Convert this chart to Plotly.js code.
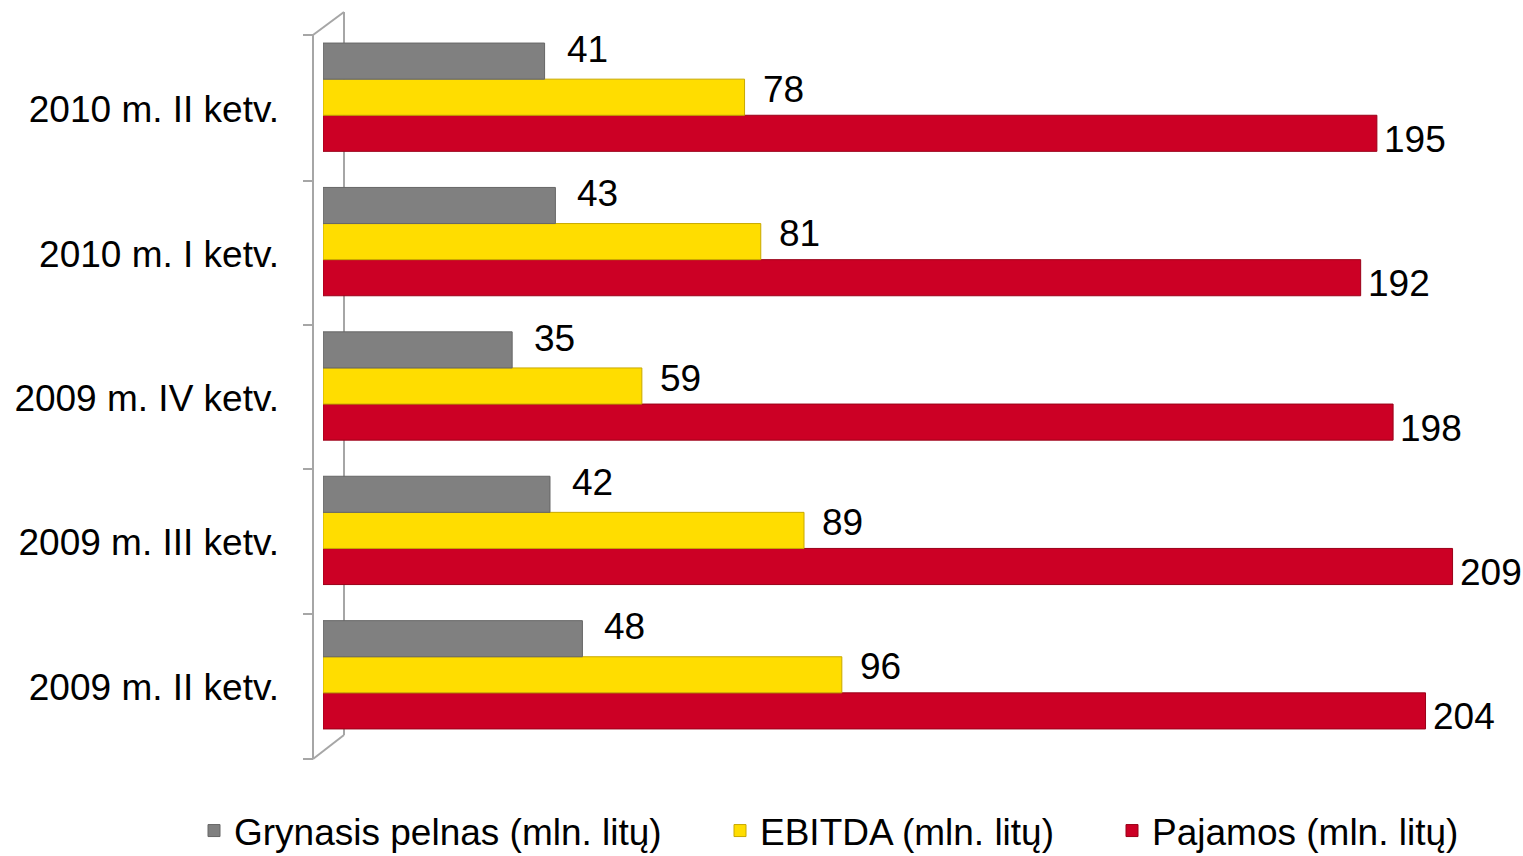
<!DOCTYPE html>
<html>
<head>
<meta charset="utf-8">
<script src="https://cdn.plot.ly/plotly-3.0.1.min.js"></script>
<style>html,body{margin:0;padding:0;background:#fff;}#chart{width:1523px;height:856px;}</style>
</head>
<body>
<div id="chart"></div>
<script>
// Categories listed bottom to top
const categories = ['2009 m. II ketv.', '2009 m. III ketv.', '2009 m. IV ketv.', '2010 m. I ketv.', '2010 m. II ketv.'];
const grynasisPelnas = [48, 42, 35, 43, 41];
const ebitda = [96, 89, 59, 81, 78];
const pajamos = [204, 209, 198, 192, 195];
const seriesNames = ['Grynasis pelnas (mln. litų)', 'EBITDA (mln. litų)', 'Pajamos (mln. litų)'];

const W = 1523, H = 856, L = 323, R = 11, T = 25, B = 109;
const pw = W - L - R, ph = H - T - B;
const px = x => (x - L) / pw;
const py = y => (H - B - y) / ph;

const FONT = 'Liberation Sans, Arial, sans-serif';
const textFont = {family: FONT, size: 37, color: '#000'};

function barTrace(name, vals, color, lineColor, legendId) {
  return {
    type: 'bar', orientation: 'h', name: name, legend: legendId,
    y: categories, x: vals,
    marker: {color: color, line: {color: lineColor, width: 1}},
    hoverinfo: 'x+name'
  };
}

const data = [
  barTrace(seriesNames[2], pajamos, '#CC0025', '#9A0018', 'legend3'),
  barTrace(seriesNames[1], ebitda, '#FFDD00', '#C8A800', 'legend2'),
  barTrace(seriesNames[0], grynasisPelnas, '#808080', '#666666', 'legend')
];

// value labels, placed at each bar's end through the axes
function labels(vals, xshift, yshift) {
  return vals.map((v, i) => ({
    x: v, y: categories[i], xref: 'x', yref: 'y',
    text: String(v), showarrow: false,
    xanchor: 'left', yanchor: 'middle',
    xshift: xshift, yshift: yshift, font: textFont
  }));
}
const annotations = [].concat(
  labels(grynasisPelnas, 20, 48),
  labels(ebitda, 16, 8),
  labels(pajamos, 5, -42)
);

const lc = {color: '#A6A6A6', width: 2};
function seg(x0, y0, x1, y1) {
  return {type: 'line', xref: 'paper', yref: 'paper', x0: px(x0), y0: py(y0), x1: px(x1), y1: py(y1), line: lc, layer: 'below'};
}
const shapes = [
  seg(313, 35, 313, 759),
  seg(344, 12, 344, 735),
  seg(313, 35, 344, 12),
  seg(313, 759, 344, 735)
];
[35, 181, 325, 469, 614, 759].forEach(y => shapes.push(seg(303, y, 313, y)));

function legendAt(textStartPx) {
  return {
    orientation: 'h', xref: 'container', yref: 'container',
    x: (textStartPx - 42) / W, xanchor: 'left',
    y: (H - 831) / H, yanchor: 'middle',
    bgcolor: 'rgba(0,0,0,0)',
    font: {family: FONT, size: 37, color: '#000'}
  };
}

const layout = {
  width: W, height: H,
  margin: {l: L, r: R, t: T, b: B, pad: 0, autoexpand: false},
  paper_bgcolor: '#fff', plot_bgcolor: 'rgba(0,0,0,0)',
  barmode: 'group', bargap: 0.25, bargroupgap: 0,
  showlegend: true,
  legend: legendAt(236),
  legend2: legendAt(762),
  legend3: legendAt(1154),
  xaxis: {range: [0, 220], showgrid: false, zeroline: false, showticklabels: false, showline: false, ticks: ''},
  yaxis: {
    type: 'category', categoryorder: 'array', categoryarray: categories,
    showgrid: false, zeroline: false, showline: false, ticks: '',
    ticklabelshift: 12, ticklabelstandoff: 43,
    tickfont: {family: FONT, size: 37, color: '#000'}
  },
  annotations: annotations,
  shapes: shapes
};

Plotly.newPlot('chart', data, layout, {displayModeBar: false, staticPlot: true});
</script>
</body>
</html>
